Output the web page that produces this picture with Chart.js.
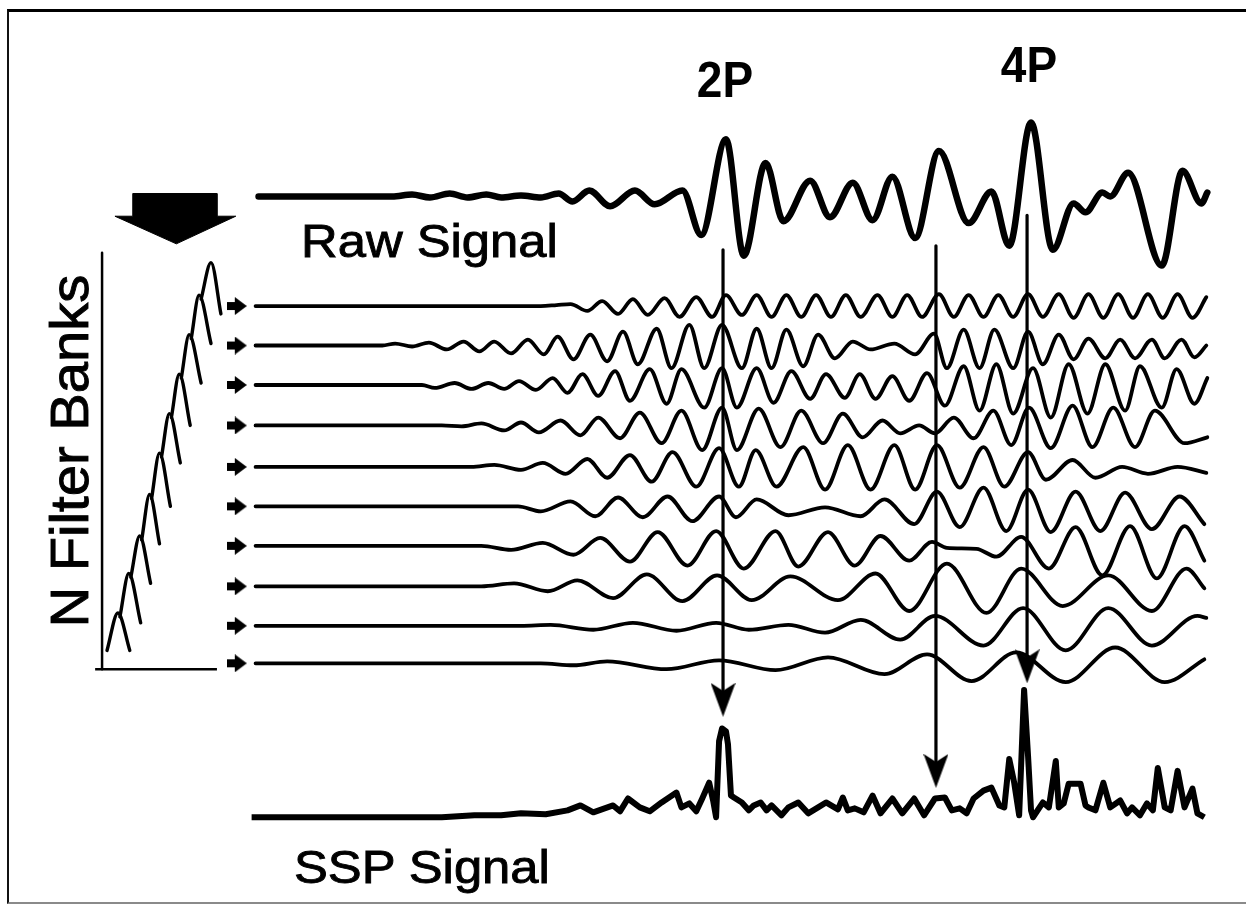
<!DOCTYPE html>
<html lang="en">
<head>
<meta charset="UTF-8">
<title>Raw Signal - N Filter Banks - SSP Signal</title>
<style>
    body {
        margin: 0;
        background: #ffffff;
        overflow: hidden;
    }
    .stage {
        position: relative;
        width: 1246px;
        height: 918px;
    }
    #chart {
        position: absolute;
        left: 0;
        top: 0;
    }
    .frame {
        position: absolute;
        left: 7px;
        top: 9px;
        width: 1245px;
        height: 890px;
        border-top: 3px solid #000;
        border-left: 2px solid #111;
        border-bottom: 2px solid #8a8a8a;
    }
    .label {
        position: absolute;
        font-family: 'Liberation Sans', Arial, Helvetica, sans-serif;
        color: #000;
        white-space: nowrap;
        line-height: 1;
    }
    .heavy { -webkit-text-stroke: 0.9px #000; }
    #raw-label { left: 301px; top: 217px; font-size: 47px; transform: scaleX(1.08); transform-origin: 0 0; }
    #ssp-label { left: 294px; top: 843px; font-size: 47px; transform: scaleX(1.08); transform-origin: 0 0; }
    #p2-label  { left: 725px; top: 55px; font-size: 50px; font-weight: bold; transform: translateX(-50%) scaleX(0.92); }
    #p4-label  { left: 1029px; top: 40px; font-size: 50px; font-weight: bold; transform: translateX(-50%) scaleX(0.92); }
    #bank-label { left: 69px; top: 451px; font-size: 53px; transform: translate(-50%, -50%) rotate(-90deg) scaleX(1.06); }
</style>
</head>
<body>
<div class="stage">
    <canvas id="chart" width="1246" height="918"></canvas>
    <div class="frame"></div>
    <div class="label" id="p2-label">2P</div>
    <div class="label" id="p4-label">4P</div>
    <div class="label heavy" id="raw-label">Raw Signal</div>
    <div class="label heavy" id="ssp-label">SSP Signal</div>
    <div class="label heavy" id="bank-label">N Filter Banks</div>
</div>
<script src="https://cdn.jsdelivr.net/npm/chart.js@4.4.1/dist/chart.umd.min.js"></script>
<script>
// ---- data: [time, amplitude] (amplitude up = positive) ----
const rawSignal = [[255,0],[390,0],[410,2],[428,-1],[448,3],[466,-1],[485,2],[500,-1],[520,1],[540,-1],
    [558,3],[572,-5],[589,6],[610,-10],[635,6],[655,-8],[683,6],[702,-39],[727,58],[745,-60],
    [767,34],[785,-25],[812,16],[832,-21],[855,14],[875,-24],[895,20],[918,-42],[942,46],[972,-27],
    [995,5],[1013,-50],[1035,75],[1057,-54],[1078,-7],[1090,-16],[1107,4],[1115,0],[1133,24],[1167,-70],
    [1188,26],[1207,-7],[1213,4]];

const filterBank1 = [[252,0],[540,0],[556,1],[570,2],[587,-5],[602,5],[618,-8],[633,7],[648,-9],[665,8],
    [680,-11],[697,9],[713,-11],[727,11],[743,-9],[758,11],[773,-11],[788,11],[803,-11],[818,11],
    [833,-11],[848,11],[863,-11],[880,11],[895,-11],[910,11],[925,-11],[942,12],[957,-11],[972,11],
    [987,-11],[1002,11],[1017,-11],[1032,12],[1047,-11],[1063,12],[1078,-12],[1093,12],[1108,-12],[1123,12],
    [1138,-12],[1153,12],[1168,-12],[1183,12],[1198,-12],[1212,9]];
const filterBank2 = [[252,0],[380,0],[393,2],[410,-1],[427,3],[445,-4],[462,4],[478,-6],[493,4],[510,-8],
    [527,6],[543,-9],[557,9],[573,-14],[590,11],[607,-16],[623,14],[638,-19],[657,17],[672,-23],
    [690,21],[705,-23],[723,21],[743,-23],[758,17],[773,-23],[788,16],[805,-21],[820,11],[837,-13],
    [855,4],[873,-4],[897,2],[918,-9],[937,12],[950,-23],[967,16],[983,-23],[998,16],[1017,-23],
    [1032,14],[1047,-19],[1063,11],[1078,-14],[1093,7],[1110,-13],[1125,6],[1140,-13],[1157,6],[1170,-13],
    [1187,6],[1200,-12],[1212,0]];
const filterBank3 = [[252,0],[420,0],[433,-3],[453,2],[470,-4],[487,2],[503,-4],[518,4],[535,-5],[552,7],
    [567,-8],[582,11],[598,-11],[615,14],[630,-16],[650,16],[667,-19],[682,16],[705,-23],[723,17],
    [738,-23],[758,17],[775,-18],[793,14],[812,-14],[828,11],[847,-13],[862,11],[878,-14],[895,9],
    [912,-16],[930,12],[948,-21],[967,19],[983,-26],[1000,21],[1017,-29],[1037,17],[1055,-33],[1073,21],
    [1092,-29],[1110,21],[1130,-26],[1145,19],[1167,-23],[1182,16],[1200,-19],[1213,7]];
const filterBank4 = [[252,0],[440,0],[460,-1],[480,2],[503,-5],[520,3],[538,-7],[560,5],[580,-10],[598,8],
    [620,-13],[640,13],[662,-18],[682,15],[703,-25],[723,18],[738,-25],[760,17],[782,-22],[803,15],
    [825,-18],[845,12],[865,-12],[885,5],[903,-8],[922,0],[938,-8],[957,8],[977,-13],[997,15],
    [1015,-20],[1033,18],[1055,-23],[1077,20],[1097,-22],[1118,18],[1140,-22],[1160,15],[1190,-18],[1213,-12]];
const filterBank5 = [[252,0],[470,0],[493,2],[520,-3],[542,4],[565,-7],[587,8],[607,-11],[630,12],[652,-15],
    [673,15],[697,-20],[720,19],[740,-20],[757,17],[778,-20],[805,20],[827,-23],[850,22],[873,-23],
    [897,22],[918,-23],[940,22],[963,-21],[987,20],[1008,-20],[1032,15],[1050,-13],[1077,7],[1100,-11],
    [1127,0],[1153,-7],[1183,0],[1212,-6]];
const filterBank6 = [[252,0],[490,0],[517,0],[540,-5],[570,5],[595,-10],[618,9],[643,-11],[668,10],[693,-15],
    [720,10],[737,-11],[758,7],[790,-9],[827,-1],[863,-10],[887,7],[917,-18],[940,15],[963,-21],
    [987,19],[1010,-25],[1032,17],[1055,-26],[1080,15],[1105,-25],[1130,14],[1157,-23],[1185,10],[1210,-18]];
const filterBank7 = [[252,0],[480,0],[510,-4],[542,3],[573,-9],[600,8],[630,-16],[658,14],[688,-20],[717,15],
    [745,-23],[777,15],[800,-21],[830,14],[857,-20],[883,10],[912,-15],[935,4],[950,-2],[980,-3],
    [1000,-11],[1025,9],[1053,-23],[1080,19],[1107,-30],[1135,20],[1162,-33],[1190,20],[1210,-15]];
const filterBank8 = [[252,0],[480,0],[513,3],[547,-5],[577,6],[613,-12],[647,12],[683,-15],[718,11],[753,-14],
    [792,10],[840,-14],[878,13],[912,-25],[950,23],[990,-27],[1025,18],[1067,-20],[1113,11],[1157,-25],
    [1192,18],[1210,-2]];
const filterBank9 = [[252,0],[520,0],[550,1],[593,-4],[633,3],[677,-5],[717,3],[750,-4],[790,1],[827,-7],
    [863,6],[903,-14],[938,10],[987,-20],[1027,18],[1070,-25],[1113,18],[1157,-20],[1203,10],[1212,8]];
const filterBank10 = [[252,0],[540,0],[573,-2],[607,2],[667,-6],[720,3],[777,-7],[830,6],[887,-11],[930,9],
    [975,-18],[1020,11],[1070,-19],[1120,16],[1170,-19],[1210,4]];

const sspSignal = [[248,0],[440,0],[473,2],[500,2],[520,4],[545,3],[567,7],[580,12],[593,5],[613,12],
    [620,6],[628,19],[640,10],[650,6],[662,15],[677,25],[682,10],[690,14],[697,6],[703,19],
    [710,35],[714,17],[717,0],[720,77],[723,90],[727,87],[729,74],[732,22],[735,20],[743,15],
    [750,7],[755,12],[762,15],[768,7],[773,12],[783,2],[790,10],[800,15],[810,4],[820,10],
    [828,15],[840,8],[845,20],[850,7],[857,9],[866,5],[875,22],[883,4],[895,19],[905,4],
    [917,19],[927,2],[938,19],[948,20],[955,7],[963,9],[970,4],[977,19],[987,27],[995,30],
    [1003,12],[1008,10],[1013,59],[1018,35],[1023,2],[1028,129],[1032,62],[1035,7],[1037,0],[1047,15],
    [1053,10],[1060,57],[1063,10],[1068,14],[1073,34],[1085,34],[1090,12],[1093,10],[1100,7],[1108,35],
    [1115,10],[1125,17],[1132,4],[1137,10],[1145,2],[1152,14],[1158,7],[1163,50],[1170,10],[1176,7],
    [1183,47],[1190,10],[1198,29],[1203,4],[1210,0]];

// filter-bank response inset (one arch per bank)
const bankCentre = [113, 124, 135, 145, 155, 165, 175, 185, 195, 207];
const bankPeak   = [615, 575, 537, 495, 453, 413, 373, 333, 293, 260];
const bankEdge   = [125, 136, 146, 155, 166, 176, 186, 197, 207, 217];
const bankFoot   = [653, 625, 585, 545, 507, 463, 425, 382, 342, 312];

// the three peak-alignment arrows: time, start, tip
const arrowTimes = [724, 939, 1031];
const arrowFrom  = [247, 243, 212];
const arrowTo    = [720, 792, 686];

// big "into filters" arrow outline
const bigArrowX = [128, 213, 213, 232, 172, 110, 128, 128];
const bigArrowY = [190, 190, 213, 213, 241, 213, 213, 190];

// ---- layout ----
const RAW_BASE = 193;
const SSP_BASE = 822;
const BANK_BASE = [304, 344, 384, 425, 467, 507, 547, 588, 628, 666];
const BANK_START = 233;
const INSET = { axisX: 97, top: 250, bottom: 672, left: 90, right: 213 };
const HEAD_H = 34;

function trace(pairs, base) {
    return pairs.map(([t, a]) => ({ x: t, y: base - a }));
}

function glyph(w, h, draw) {
    const c = document.createElement('canvas');
    c.width = w;
    c.height = h;
    const g = c.getContext('2d');
    g.fillStyle = '#000';
    draw(g);
    return c;
}

const smallArrow = glyph(20, 18, g => {
    g.fillRect(0, 5, 9, 8);
    g.beginPath();
    g.moveTo(8, 0); g.lineTo(20, 9); g.lineTo(8, 18);
    g.closePath();
    g.fill();
});

const arrowHead = glyph(25, HEAD_H, g => {
    g.beginPath();
    g.moveTo(0, 0); g.lineTo(12.5, 8); g.lineTo(25, 0); g.lineTo(12.5, HEAD_H);
    g.closePath();
    g.fill();
});

function wave(points, width) {
    return {
        data: points,
        borderColor: '#000',
        borderWidth: width,
        pointRadius: 0,
        fill: false,
        cubicInterpolationMode: 'monotone',
        borderJoinStyle: 'round',
        borderCapStyle: 'round'
    };
}

function straight(points, width) {
    return {
        data: points,
        borderColor: '#000',
        borderWidth: width,
        pointRadius: 0,
        fill: false,
        tension: 0,
        borderJoinStyle: 'round',
        borderCapStyle: 'butt'
    };
}

const banks = [filterBank1, filterBank2, filterBank3, filterBank4, filterBank5,
               filterBank6, filterBank7, filterBank8, filterBank9, filterBank10];

const datasets = [];

// arrows on top
arrowTimes.forEach((t, i) => {
    datasets.push(straight([{ x: t, y: arrowFrom[i] }, { x: t, y: arrowTo[i] - 8 }], 3.2));
});
datasets.push({
    data: arrowTimes.map((t, i) => ({ x: t, y: arrowTo[i] - HEAD_H / 2 })),
    showLine: false,
    pointStyle: arrowHead,
    pointRadius: 5
});

datasets.push(wave(trace(rawSignal, RAW_BASE), 6.5));
banks.forEach((b, i) => datasets.push(wave(trace(b, BANK_BASE[i]), 3.8)));
datasets.push(straight(trace(sspSignal, SSP_BASE), 6));

// small arrows feeding each bank
datasets.push({
    data: BANK_BASE.map(y => ({ x: BANK_START, y: y })),
    showLine: false,
    pointStyle: smallArrow,
    pointRadius: 5
});

// inset: arches
bankCentre.forEach((c, i) => {
    const left = i === 0 ? { x: 102, y: INSET.bottom - 19 } : { x: bankCentre[i - 1] + 2, y: bankPeak[i - 1] + 4 };
    datasets.push(wave([left, { x: c, y: bankPeak[i] }, { x: bankEdge[i], y: bankFoot[i] }], 3.4));
});
// inset axes
datasets.push(straight([{ x: INSET.axisX, y: INSET.top }, { x: INSET.axisX, y: INSET.bottom }], 2.5));
datasets.push(straight([{ x: INSET.left, y: INSET.bottom }, { x: INSET.right, y: INSET.bottom }], 2.5));

// big arrow
datasets.push({
    data: bigArrowX.map((x, i) => ({ x: x, y: bigArrowY[i] })),
    borderColor: '#000',
    backgroundColor: '#000',
    borderWidth: 1,
    pointRadius: 0,
    tension: 0,
    fill: 'shape'
});

new Chart(document.getElementById('chart'), {
    type: 'line',
    data: { datasets: datasets },
    options: {
        responsive: false,
        animation: false,
        devicePixelRatio: 1,
        layout: { padding: 0 },
        plugins: {
            legend: { display: false },
            tooltip: { enabled: false }
        },
        scales: {
            x: { type: 'linear', min: 0, max: 1246, display: false },
            y: { type: 'linear', min: 0, max: 918, reverse: true, display: false }
        }
    }
});
</script>
</body>
</html>
